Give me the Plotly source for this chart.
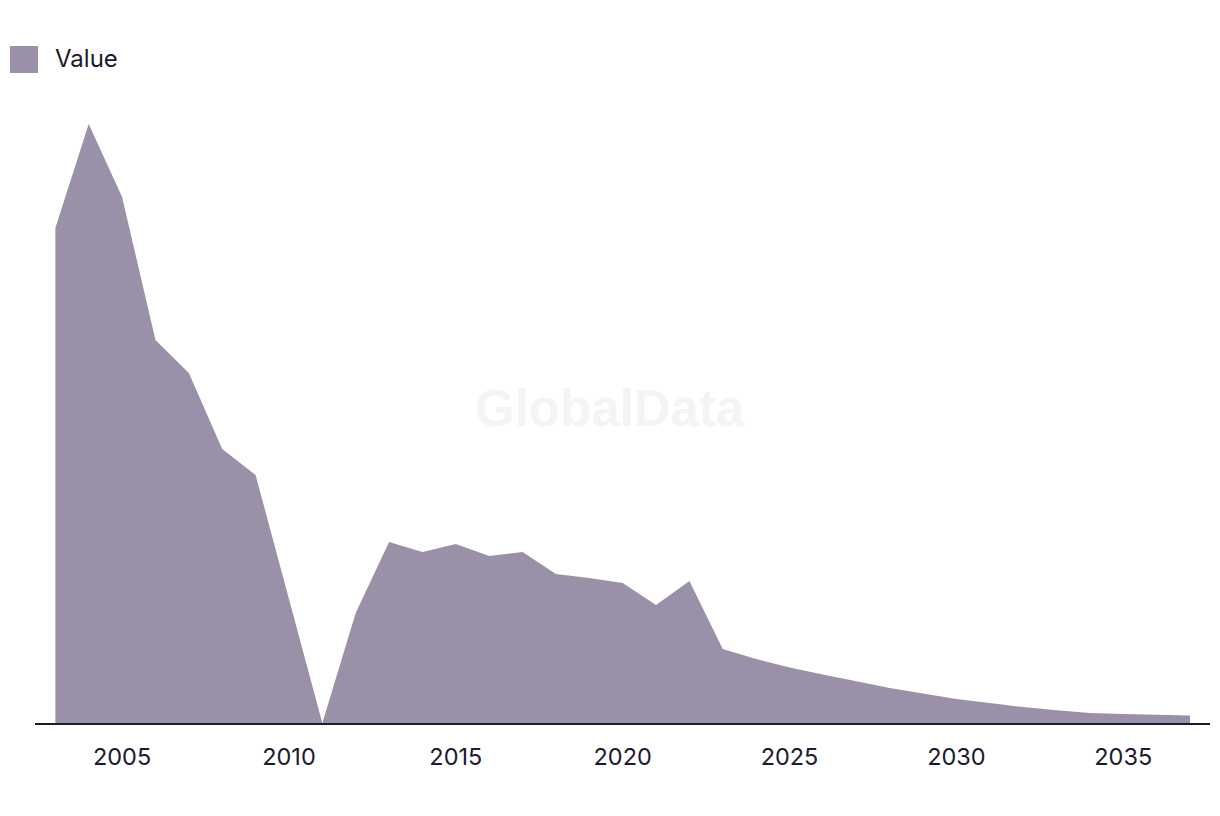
import plotly.graph_objects as go

years = list(range(2003, 2038))
values = [495, 599, 526, 383, 350, 274, 248, 124, 0, 110, 181, 171, 179, 167, 171,
          149, 145, 140, 118, 142, 74, 64, 55.5, 48.5, 41.5, 35, 29.5, 24, 20, 16,
          12.8, 10, 9, 8.2, 7.5]
tick_years = [2005, 2010, 2015, 2020, 2025, 2030, 2035]
series_name = "Value"

FILL = "#9A91A9"
TEXT = "#1C1A2E"
FONT = "Inter, Liberation Sans, Arial, sans-serif"

L, R, T, B = 35, 10, 100, 93
W, H = 1220, 816
plot_w = W - L - R
plot_h = H - T - B


def px_to_paper_x(px):
    return (px - L) / plot_w


def px_to_paper_y(py):
    return (H - B - py) / plot_h


fig = go.Figure()
fig.add_trace(go.Scatter(
    x=years, y=values, name=series_name, mode="lines",
    line=dict(width=0, color=FILL), fill="tozeroy", fillcolor=FILL,
    showlegend=False, hoverinfo="x+y",
))

fig.update_layout(
    width=W, height=H,
    margin=dict(l=L, r=R, t=T, b=B),
    paper_bgcolor="white", plot_bgcolor="white",
    font=dict(family=FONT, color=TEXT, size=23.5),
    xaxis=dict(
        range=[2002.39, 2037.6], tickvals=tick_years,
        ticktext=[str(t) for t in tick_years],
        showgrid=False, zeroline=False,
        showline=True, linecolor=TEXT, linewidth=2,
        ticks="outside", ticklen=12, tickcolor="rgba(0,0,0,0)",
        tickfont=dict(size=23.5, color=TEXT, family=FONT),
    ),
    yaxis=dict(range=[0, plot_h], visible=False, showgrid=False, zeroline=False),
    annotations=[
        dict(text="GlobalData", x=px_to_paper_x(610), y=px_to_paper_y(408),
             xref="paper", yref="paper",
             xanchor="center", yanchor="middle", showarrow=False,
             font=dict(size=51, color="#F4F4F4",
                       family="Liberation Sans, Arial, sans-serif", weight="bold")),
        dict(text=series_name, x=px_to_paper_x(53), y=px_to_paper_y(59),
             xref="paper", yref="paper",
             showarrow=False, xanchor="left", yanchor="middle",
             font=dict(size=24, color=TEXT, family=FONT)),
    ],
)

fig.add_shape(type="rect", xref="paper", yref="paper",
              x0=px_to_paper_x(10), x1=px_to_paper_x(38),
              y0=px_to_paper_y(73), y1=px_to_paper_y(46),
              fillcolor=FILL, line=dict(width=0), layer="above")

fig.write_html("out.html")
